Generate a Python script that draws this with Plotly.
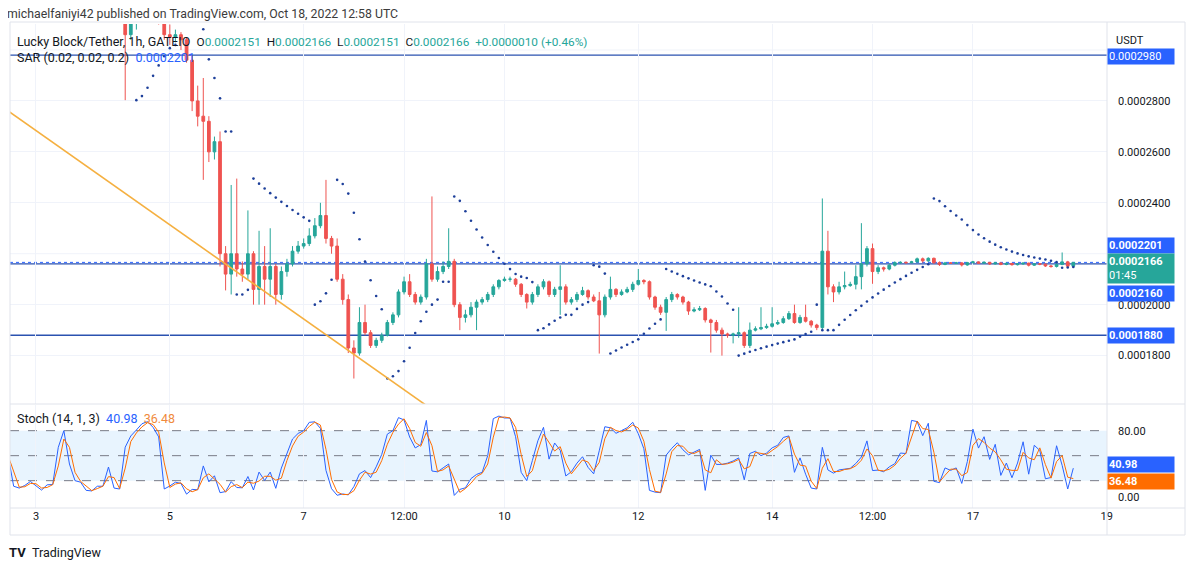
import numpy as np
import pandas as pd
import plotly.graph_objects as go
from plotly.subplots import make_subplots

# LKB/USDT, 2h bars from Oct 2 14:00 to Oct 18 12:00 (prices in units of 1e-7 USDT)
FIRST_OPEN = 3440
CLOSE = [
    3420, 3330, 3300, 3280, 3290, 3270, 3250, 3260, 3240, 3280, 3300, 3260,
    3240, 3230, 3210, 3200, 3190, 3180, 3200, 3170, 3150, 3060, 3110, 3140,
    3180, 3200, 3170, 3120, 3060, 3050, 3060, 3040, 2960, 2800, 2740, 2720,
    2600, 2640, 2200, 2120, 2200, 2140, 2120, 2200, 2060, 2150, 2100, 2150,
    2040, 2130, 2160, 2210, 2230, 2240, 2270, 2310, 2350, 2260, 2230, 2100,
    2020, 1830, 1810, 1930, 1890, 1840, 1860, 1880, 1930, 1960, 2050, 2090,
    2040, 2010, 2030, 2160, 2100, 2130, 2150, 2170, 2000, 1950, 1960, 1990,
    2010, 2020, 2040, 2070, 2095, 2100, 2100, 2080, 2040, 2010, 2040, 2070,
    2090, 2040, 2060, 2070, 2010, 2020, 2040, 2055, 2030, 2015, 1960, 2030,
    2060, 2040, 2050, 2060, 2080, 2095, 2090, 2030, 1990, 1970, 2020, 2040,
    2030, 2010, 1975, 1980, 1985, 1940, 1930, 1900, 1885, 1880, 1885, 1890,
    1840, 1900, 1905, 1910, 1915, 1925, 1930, 1945, 1965, 1930, 1950, 1935,
    1920, 1910, 2210, 2070, 2050, 2070, 2075, 2080, 2110, 2160, 2220, 2130,
    2145, 2140, 2155, 2165, 2166, 2165, 2168, 2180, 2172, 2182, 2165, 2158,
    2164, 2163, 2164, 2156, 2165, 2168, 2163, 2166, 2160, 2164, 2158, 2162,
    2157, 2160, 2163, 2155, 2160, 2159, 2152, 2150, 2158, 2168, 2151, 2166,
]
HIGH = [
    3460, 3430, 3350, 3320, 3310, 3300, 3280, 3280, 3270, 3290, 3320, 3310,
    3270, 3250, 3240, 3230, 3210, 3200, 3220, 3210, 3180, 3160, 3180, 3200,
    3230, 3240, 3210, 3180, 3140, 3100, 3080, 3070, 3050, 2980, 2860, 2890,
    2740, 2660, 2680, 2230, 2470, 2495, 2170, 2370, 2210, 2290, 2230, 2300,
    2160, 2150, 2180, 2230, 2250, 2260, 2300, 2340, 2400, 2490, 2270, 2260,
    2120, 2040, 1860, 1990, 2000, 1900, 1870, 1890, 1940, 1970, 2060, 2110,
    2120, 2050, 2040, 2180, 2425, 2150, 2170, 2300, 2180, 2010, 1980, 2010,
    2020, 2030, 2050, 2080, 2100, 2110, 2110, 2105, 2085, 2045, 2050, 2080,
    2100, 2095, 2070, 2155, 2080, 2030, 2050, 2070, 2060, 2040, 2050, 2040,
    2110, 2065, 2060, 2070, 2090, 2140, 2100, 2095, 2035, 2000, 2030, 2050,
    2045, 2035, 2015, 1990, 1995, 1990, 1945, 1940, 1910, 1890, 1890, 1990,
    1895, 1930, 1915, 1990, 1925, 1990, 1940, 1955, 1975, 2000, 1960, 2000,
    1940, 1925, 2417, 2290, 2080, 2090, 2130, 2090, 2155, 2320, 2230, 2240,
    2155, 2150, 2160, 2170, 2170, 2170, 2172, 2185, 2185, 2186, 2185, 2170,
    2168, 2167, 2168, 2167, 2168, 2172, 2170, 2170, 2168, 2168, 2166, 2166,
    2164, 2163, 2166, 2165, 2163, 2163, 2161, 2156, 2162, 2205, 2172, 2166,
]
LOW = [
    3380, 3310, 3280, 3250, 3260, 3240, 3230, 3240, 3220, 3230, 3270, 3250,
    3230, 3210, 3200, 3190, 3170, 3160, 3170, 3160, 3140, 2803, 3040, 3080,
    3120, 3170, 3150, 3100, 3040, 3020, 3030, 3000, 2950, 2760, 2700, 2490,
    2560, 2570, 2150, 2056, 2040, 2110, 2090, 2100, 2000, 2000, 2000, 2030,
    2000, 2020, 2110, 2150, 2200, 2220, 2230, 2260, 2300, 2240, 2200, 2090,
    2000, 1810, 1710, 1800, 1880, 1830, 1830, 1850, 1875, 1920, 1950, 2040,
    2030, 2000, 2000, 2020, 2090, 2090, 2120, 2140, 1990, 1900, 1930, 1950,
    1900, 2000, 2010, 2030, 2060, 2090, 2090, 2070, 2030, 1985, 2000, 2030,
    2060, 2030, 2030, 1960, 2000, 2000, 2010, 2035, 2020, 2010, 1808, 1950,
    2020, 2030, 2035, 2045, 2050, 2075, 2080, 2020, 1980, 1960, 1897, 2010,
    2020, 2000, 1960, 1970, 1975, 1930, 1812, 1890, 1800, 1870, 1848, 1870,
    1830, 1830, 1895, 1900, 1905, 1910, 1920, 1925, 1940, 1925, 1925, 1930,
    1910, 1900, 1900, 2040, 2010, 2040, 2060, 2070, 2060, 2060, 2150, 2082,
    2120, 2130, 2135, 2150, 2160, 2160, 2162, 2165, 2165, 2168, 2160, 2152,
    2155, 2160, 2160, 2150, 2153, 2162, 2160, 2160, 2156, 2158, 2155, 2155,
    2153, 2154, 2157, 2150, 2152, 2155, 2148, 2145, 2146, 2155, 2148, 2151,
]

# drawn levels / trendline
LEVELS = [2980, 2160, 1880]
LAST_PRICE = 2166
TREND_X = ["2022-10-02 12:00", "2022-10-09 12:00"]
TREND_Y = [2776, 1481]

TICK_DATES = ["2022-10-03 00:00", "2022-10-05 00:00", "2022-10-07 00:00", "2022-10-08 12:00",
              "2022-10-10 00:00", "2022-10-12 00:00", "2022-10-14 00:00", "2022-10-15 12:00",
              "2022-10-17 00:00", "2022-10-19 00:00"]
TICK_TEXT = ["3", "5", "7", "12:00", "10", "12", "14", "12:00", "17", "19"]
PRICE_TICKS = [1800, 2000, 2400, 2600, 2800]   # 2200 / 3000 sit under the price tags
STOCH_TICKS = [0, 80]

SCALE = 1e7
close = np.array(CLOSE) / SCALE
high = np.array(HIGH) / SCALE
low = np.array(LOW) / SCALE
opn = np.concatenate([[FIRST_OPEN / SCALE], close[:-1]])
times = pd.date_range("2022-10-02 14:00", periods=len(CLOSE), freq="2h")


def parabolic_sar(h, l, start, inc, mx):
    n = len(h)
    sar = np.full(n, np.nan)
    up = False
    ep = l[0]
    af = start
    sar[0] = h[0]
    for i in range(1, n):
        s = sar[i - 1] + af * (ep - sar[i - 1])
        if up:
            s = min(s, l[i - 1], l[max(i - 2, 0)])
            if l[i] < s:
                up, s, ep, af = False, ep, l[i], start
            elif h[i] > ep:
                ep, af = h[i], min(af + inc, mx)
        else:
            s = max(s, h[i - 1], h[max(i - 2, 0)])
            if h[i] > s:
                up, s, ep, af = True, ep, h[i], start
            elif l[i] < ep:
                ep, af = l[i], min(af + inc, mx)
        sar[i] = s
    return sar


# bars are 2h, so factors doubled / lengths halved to behave like the hourly originals
sar = parabolic_sar(high, low, 0.04, 0.04, 0.4)

hh = pd.Series(high).rolling(7, min_periods=1).max()
ll = pd.Series(low).rolling(7, min_periods=1).min()
k_line = 100 * (pd.Series(close) - ll) / (hh - ll)
d_line = k_line.rolling(2, min_periods=1).mean()

GREEN = "#26a69a"
RED = "#ef5350"
BLUE = "#2962ff"
LINE_BLUE = "#2b52b0"
ORANGE = "#ff6d00"
TXT = "#131722"
GRID = "#f0f3fa"
FONT = "Roboto, sans-serif"

# the page body has an 8px margin, so the figure is laid out 8px in from the window edge
OFF = 8
W, H = 1178, 554
L, R, T, B = 2, 79, 16, 54
PW, PH = W - L - R, H - T - B


def px(x):
    return (x - OFF - L) / PW


def py(y):
    return (H - B - (y - OFF)) / PH


fig = make_subplots(rows=2, cols=1, shared_xaxes=True)

fig.add_trace(go.Candlestick(
    x=times, open=opn, high=high, low=low, close=close,
    increasing=dict(line=dict(color=GREEN, width=1), fillcolor=GREEN),
    decreasing=dict(line=dict(color=RED, width=1), fillcolor=RED),
    whiskerwidth=0, showlegend=False), row=1, col=1)

fig.add_trace(go.Scatter(x=times, y=sar, mode="markers",
                         marker=dict(size=2.6, color="#1d3f9a"), showlegend=False),
              row=1, col=1)

fig.add_trace(go.Scatter(x=pd.to_datetime(TREND_X), y=np.array(TREND_Y) / SCALE, mode="lines",
                         line=dict(color="#f5b041", width=1.6), showlegend=False),
              row=1, col=1)

fig.add_trace(go.Scatter(x=times, y=k_line, mode="lines",
                         line=dict(color=BLUE, width=1), showlegend=False), row=2, col=1)
fig.add_trace(go.Scatter(x=times, y=d_line, mode="lines",
                         line=dict(color=ORANGE, width=1), showlegend=False), row=2, col=1)

# horizontal levels
for lv in LEVELS:
    fig.add_shape(type="line", xref="x domain", yref="y", x0=0, x1=1, y0=lv / SCALE, y1=lv / SCALE,
                  line=dict(color=LINE_BLUE, width=1.3), layer="below")
fig.add_shape(type="line", xref="x domain", yref="y", x0=0, x1=1,
              y0=LAST_PRICE / SCALE, y1=LAST_PRICE / SCALE,
              line=dict(color=BLUE, width=1, dash="dot"), layer="below")
for gv in [2200, 3000]:
    fig.add_shape(type="line", xref="x domain", yref="y", x0=0, x1=1, y0=gv / SCALE, y1=gv / SCALE,
                  line=dict(color=GRID, width=1), layer="below")

# stochastic band and guide lines
fig.add_shape(type="rect", xref="x2 domain", yref="y2", x0=0, x1=1, y0=20, y1=80,
              fillcolor="rgba(33,150,243,0.1)", line=dict(width=0), layer="below")
for lv in [80, 50, 20]:
    fig.add_shape(type="line", xref="x2 domain", yref="y2", x0=0, x1=1, y0=lv, y1=lv,
                  line=dict(color="#787b86", width=1, dash="dash"), layer="below")

# frame lines
frame = dict(color="#e0e3eb", width=1)
fig.add_shape(type="rect", xref="paper", yref="paper", x0=px(10), x1=px(1185), y0=py(535), y1=py(22),
              line=frame)
fig.add_shape(type="line", xref="paper", yref="paper", x0=px(1107), x1=px(1107), y0=py(535), y1=py(22),
              line=frame)
fig.add_shape(type="line", xref="paper", yref="paper", x0=px(10), x1=px(1185), y0=py(404), y1=py(404),
              line=frame)
fig.add_shape(type="line", xref="paper", yref="paper", x0=px(10), x1=px(1185), y0=py(508), y1=py(508),
              line=frame)

xrange = [pd.Timestamp("2022-10-02 14:41"), pd.Timestamp("2022-10-19 00:05")]
tick_x = pd.to_datetime(TICK_DATES)
fig.update_xaxes(range=xrange, tickvals=tick_x, ticktext=TICK_TEXT, showgrid=True, gridcolor=GRID,
                 gridwidth=1, zeroline=False, showline=False, ticks="",
                 tickfont=dict(size=11, color=TXT, family=FONT), rangeslider_visible=False)
fig.update_xaxes(showticklabels=False, row=1, col=1)

fig.update_layout(
    width=W, height=H, margin=dict(l=L, r=R, t=T, b=B),
    paper_bgcolor="white", plot_bgcolor="white",
    font=dict(family=FONT, color=TXT, size=11),
    xaxis_rangeslider_visible=False,
    yaxis=dict(domain=[(508 - 404) / PH, 1], side="right", range=[1610 / SCALE, 3102 / SCALE],
               tickvals=[t / SCALE for t in PRICE_TICKS], tickformat=".7f",
               showgrid=True, gridcolor=GRID, zeroline=False, ticks="", ticklabelstandoff=10,
               tickfont=dict(size=11, color=TXT)),
    yaxis2=dict(domain=[0, (508 - 405) / PH], side="right", range=[-12.8, 110.8],
                tickvals=STOCH_TICKS, tickformat=".2f", showgrid=False, zeroline=False,
                ticks="", ticklabelstandoff=10, tickfont=dict(size=11, color=TXT)),
)

ann = []


def label(x, y, text, size=11, color=TXT, **kw):
    ann.append(dict(xref="paper", yref="paper", x=px(x - 3), y=py(y), text=text, showarrow=False,
                    xanchor="left", yanchor="middle", font=dict(size=size, color=color, family=FONT), **kw))


NB = "\u00a0"
label(8, 14, "michaelfaniyi42 published on TradingView.com, Oct 18, 2022 12:58 UTC", size=12.3, color="#3b3b3b")


def g(s):
    return f'<span style="color:{GREEN}">{s}</span>'


GAP = NB * 2
values = ("O" + g("0.0002151") + GAP + "H" + g("0.0002166") + GAP + "L" + g("0.0002151")
          + GAP + "C" + g("0.0002166") + GAP + g("+0.0000010 (+0.46%)"))
label(18, 41, "Lucky Block/Tether, 1h, GATEIO" + GAP + f'<span style="font-size:11.8px">{values}</span>',
      size=12.5)
label(18, 58, "SAR (0.02, 0.02, 0.2)" + NB * 2 + f'<span style="color:{BLUE}">0.0002201</span>', size=12.5)
label(18, 418, "Stoch (14, 1, 3)" + NB * 2 + f'<span style="color:{BLUE}">40.98</span>' + NB * 2
      + f'<span style="color:#f08a3c">36.48</span>', size=12.5)
label(1117, 40, "USDT", size=11)


def box(y, text, bg):
    label(1110, y, text, size=11, color="white", bgcolor=bg, width=64, align="left", borderpad=1)


box(56, "0.0002980", BLUE)
box(245, "<b>0.0002201</b>", BLUE)
box(268, "<b>0.0002166</b><br>01:45", GREEN)
box(293.5, "<b>0.0002160</b>", BLUE)
box(335, "<b>0.0001880</b>", BLUE)
box(464, "<b>40.98</b>", BLUE)
box(481, "<b>36.48</b>", ORANGE)

label(10, 552, "<b>TV</b>", size=13, color="#131722")
label(33, 552, "TradingView", size=12.5, color="#131722")

fig.update_layout(annotations=ann)

fig.write_html("out.html")
